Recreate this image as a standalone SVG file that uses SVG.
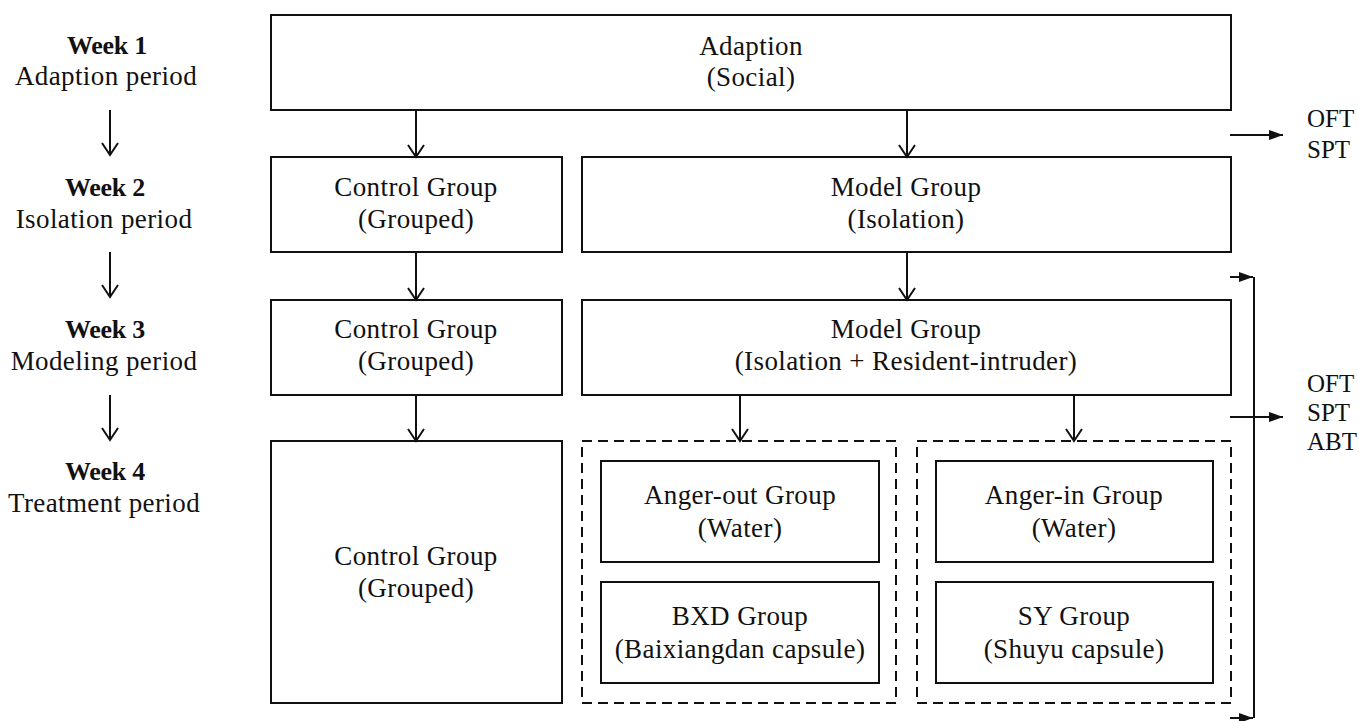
<svg xmlns="http://www.w3.org/2000/svg" width="1359" height="721" viewBox="0 0 1359 721">
<style>
text{font-family:"Liberation Serif","Times New Roman",serif;font-size:27px;fill:#111;text-anchor:middle}
.lbl{letter-spacing:0.4px}
.wk{font-weight:bold;font-size:26px;letter-spacing:-0.3px}
.side{text-anchor:start;font-size:25px}
.box{fill:#fff;stroke:#111;stroke-width:2}
.dash{fill:none;stroke:#111;stroke-width:2;stroke-dasharray:10 6}
.con{fill:none;stroke:#111;stroke-width:2}
</style>
<defs>
<marker id="v" markerUnits="userSpaceOnUse" markerWidth="20" markerHeight="20" refX="12" refY="8" orient="auto" overflow="visible">
<path d="M0,0 L12,8 L0,16" fill="none" stroke="#111" stroke-width="2"/>
</marker>
<marker id="tri" markerUnits="userSpaceOnUse" markerWidth="20" markerHeight="20" refX="14" refY="5" orient="auto" overflow="visible">
<path d="M0,0 L14,5 L0,10 z" fill="#111"/>
</marker>
</defs>
<rect width="1359" height="721" fill="#fff"/>

<g id="week-labels">
<g id="week1"><text class="wk" x="107" y="54">Week 1</text><text class="lbl" x="106" y="85">Adaption period</text></g>
<g id="week2"><text class="wk" x="105" y="196">Week 2</text><text class="lbl" x="104" y="228">Isolation period</text></g>
<g id="week3"><text class="wk" x="105" y="338">Week 3</text><text class="lbl" x="104" y="370">Modeling period</text></g>
<g id="week4"><text class="wk" x="105" y="480">Week 4</text><text class="lbl" x="104" y="512">Treatment period</text></g>
</g>

<g id="adaption"><rect class="box" x="271" y="15" width="960" height="95"/><text class="lbl" x="751" y="55">Adaption</text><text class="lbl" x="751" y="86">(Social)</text></g>

<g id="control2"><rect class="box" x="271" y="157" width="291" height="95"/><text class="lbl" x="416" y="196">Control Group</text><text class="lbl" x="416" y="228">(Grouped)</text></g>
<g id="model2"><rect class="box" x="582" y="157" width="649" height="95"/><text class="lbl" x="906" y="196">Model Group</text><text class="lbl" x="906" y="228">(Isolation)</text></g>

<g id="control3"><rect class="box" x="271" y="300" width="291" height="95"/><text class="lbl" x="416" y="338">Control Group</text><text class="lbl" x="416" y="370">(Grouped)</text></g>
<g id="model3"><rect class="box" x="582" y="300" width="649" height="95"/><text class="lbl" x="906" y="338">Model Group</text><text class="lbl" x="906" y="370">(Isolation + Resident-intruder)</text></g>

<g id="control4"><rect class="box" x="271" y="441" width="291" height="262"/><text class="lbl" x="416" y="565">Control Group</text><text class="lbl" x="416" y="597">(Grouped)</text></g>

<g id="anger-out-set"><rect class="dash" x="582" y="441" width="314" height="262"/></g>
<g id="anger-out"><rect class="box" x="601" y="461" width="278" height="101"/><text class="lbl" x="740" y="504">Anger-out Group</text><text class="lbl" x="740" y="537">(Water)</text></g>
<g id="bxd"><rect class="box" x="601" y="582" width="278" height="101"/><text class="lbl" x="740" y="625">BXD Group</text><text class="lbl" x="740" y="658">(Baixiangdan capsule)</text></g>

<g id="anger-in-set"><rect class="dash" x="917" y="441" width="314" height="262"/></g>
<g id="anger-in"><rect class="box" x="936" y="461" width="277" height="101"/><text class="lbl" x="1074" y="504">Anger-in Group</text><text class="lbl" x="1074" y="537">(Water)</text></g>
<g id="sy"><rect class="box" x="936" y="582" width="277" height="101"/><text class="lbl" x="1074" y="625">SY Group</text><text class="lbl" x="1074" y="658">(Shuyu capsule)</text></g>

<g id="tests1"><text class="side" x="1307" y="127">OFT</text><text class="side" x="1307" y="158">SPT</text></g>
<g id="tests2"><text class="side" x="1307" y="392">OFT</text><text class="side" x="1307" y="421">SPT</text><text class="side" x="1307" y="450">ABT</text></g>

<g id="connectors">
<line class="con" x1="110" y1="110" x2="110" y2="155" marker-end="url(#v)"/>
<line class="con" x1="110" y1="252" x2="110" y2="297" marker-end="url(#v)"/>
<line class="con" x1="110" y1="395" x2="110" y2="440" marker-end="url(#v)"/>
<line class="con" x1="416" y1="110" x2="416" y2="157" marker-end="url(#v)"/>
<line class="con" x1="907" y1="110" x2="907" y2="157" marker-end="url(#v)"/>
<line class="con" x1="416" y1="252" x2="416" y2="300" marker-end="url(#v)"/>
<line class="con" x1="907" y1="252" x2="907" y2="300" marker-end="url(#v)"/>
<line class="con" x1="416" y1="395" x2="416" y2="441" marker-end="url(#v)"/>
<line class="con" x1="740" y1="395" x2="740" y2="441" marker-end="url(#v)"/>
<line class="con" x1="1074" y1="395" x2="1074" y2="441" marker-end="url(#v)"/>
<line class="con" x1="1230" y1="135" x2="1283" y2="135" marker-end="url(#tri)"/>
<line class="con" x1="1254" y1="277" x2="1254" y2="718"/>
<line class="con" x1="1230" y1="277" x2="1253" y2="277" marker-end="url(#tri)"/>
<line class="con" x1="1230" y1="718" x2="1253" y2="718" marker-end="url(#tri)"/>
<line class="con" x1="1230" y1="417" x2="1283" y2="417" marker-end="url(#tri)"/>
</g>
</svg>
